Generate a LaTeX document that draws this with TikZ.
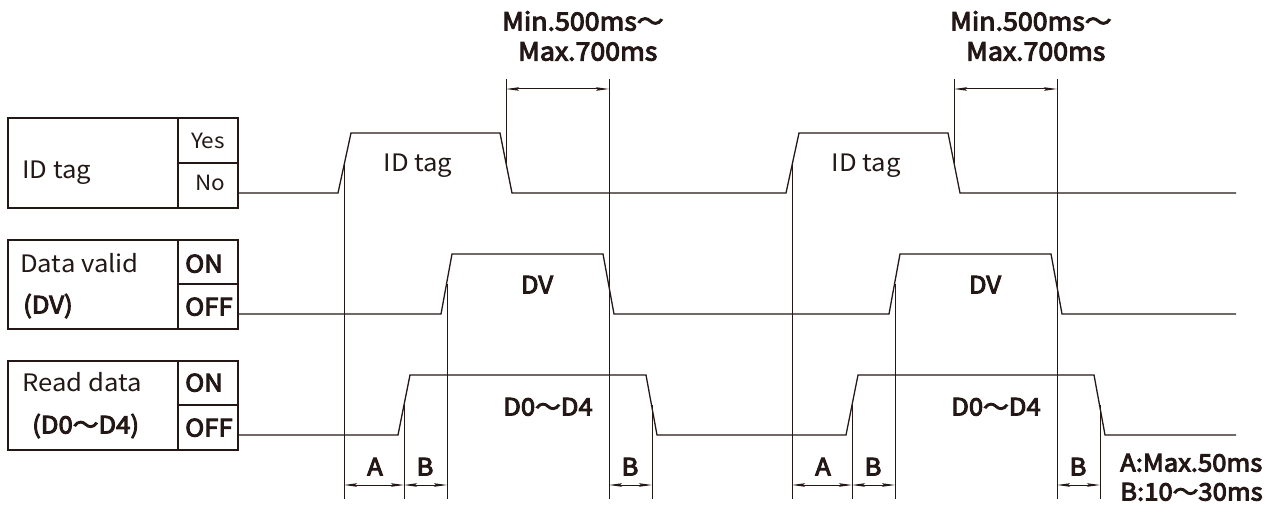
\documentclass[tikz,border=0pt]{standalone}
\usepackage{fontspec}
\setmainfont{Noto Sans CJK JP}
\newfontfamily\lightf{Noto Sans CJK JP}[FakeStretch=1.07]
\newfontfamily\medf{Noto Sans CJK JP}[FakeBold=4,FakeStretch=1.07]
\usetikzlibrary{arrows.meta}
\definecolor{ink}{HTML}{231815}
\tikzset{
  lt/.style={font=\lightf\fontsize{24}{24}\selectfont, text=ink, inner sep=0pt, text height=17pt, text depth=0pt},
  bd/.style={font=\medf\fontsize{24}{24}\selectfont, text=ink, inner sep=0pt, text height=17pt, text depth=0pt},
  sm/.style={font=\lightf\fontsize{21}{21}\selectfont, text=ink, inner sep=0pt, text height=15pt, text depth=0pt},
  wave/.style={line width=1.3pt, line join=miter},
  boxline/.style={line width=1.3pt},
  ext/.style={line width=1pt},
  dim/.style={line width=1pt, {Stealth[length=13pt,width=3.5pt,inset=2pt]}-{Stealth[length=13pt,width=3.5pt,inset=2pt]}}
}
\begin{document}
\begin{tikzpicture}[x=1pt,y=-1pt,color=ink]
\useasboundingbox (0,0) rectangle (1284,505);
% label boxes
\draw[boxline] (8,118) rectangle (238,208) (178,118) -- (178,208) (178,163) -- (238,163);
\draw[boxline] (8,240) rectangle (238,329) (178,240) -- (178,329) (178,284) -- (238,284);
\draw[boxline] (8,361) rectangle (238,450) (178,361) -- (178,450) (178,405) -- (238,405);
\node[lt,anchor=west] (lid) at (22,170) {ID tag};
\node[sm] (lyes) at (208,141) {Yes};
\node[sm] (lno) at (210,183) {No};
\node[lt,anchor=west] (ldv) at (20,264) {Data valid};
\node[bd,anchor=west] (ldv2) at (23,305) {(DV)};
\node[bd,anchor=west] (lon1) at (185,264) {ON};
\node[bd,anchor=west] (loff1) at (185,307) {OFF};
\node[lt,anchor=west] (lrd) at (22,383) {Read data};
\node[bd,anchor=west] (lrd2) at (32,425) {(D0～D4)};
\node[bd,anchor=west] (lon2) at (185,383) {ON};
\node[bd,anchor=west] (loff2) at (185,428) {OFF};
% waveforms
\draw[wave] (238,193) -- (338,193) -- (351,133) -- (500,133) -- (512,193) -- (786,193) -- (799,133) -- (948,133) -- (960,193) -- (1236,193);
\draw[wave] (238,314) -- (441,314) -- (452,254) -- (603,254) -- (614,314) -- (889,314) -- (900,254) -- (1051,254) -- (1062,314) -- (1236,314);
\draw[wave] (238,435) -- (398,435) -- (410,375) -- (646,375) -- (657,435) -- (846,435) -- (858,375) -- (1094,375) -- (1105,435) -- (1236,435);
% cycles
\foreach \o/\k in {0/1,448/2}{
  \node[lt] (wid\k) at (418+\o,163) {ID tag};
  \node[bd] (wdv\k) at (537+\o,285) {DV};
  \node[bd] (wdd\k) at (548+\o,407) {D0～D4};
  \node[bd,anchor=west,font=\medf\fontsize{25}{25}\selectfont] (min\k) at (502+\o,22) {Min.500ms～};
  \node[bd,anchor=west,font=\medf\fontsize{25}{25}\selectfont] (max\k) at (518+\o,52) {Max.700ms};
  % extension lines
  \coordinate (e1t\k) at (344+\o,163); \coordinate (e1b\k) at (344+\o,499);
  \coordinate (e2t\k) at (404+\o,405); \coordinate (e2b\k) at (404+\o,499);
  \coordinate (e3t\k) at (447+\o,284); \coordinate (e3b\k) at (447+\o,499);
  \coordinate (e4t\k) at (609+\o,79);  \coordinate (e4b\k) at (609+\o,499);
  \coordinate (e5t\k) at (652+\o,405); \coordinate (e5b\k) at (652+\o,499);
  \coordinate (e6t\k) at (506+\o,79);  \coordinate (e6b\k) at (506+\o,163);
  \draw[ext] (e1t\k) -- (e1b\k);
  \draw[ext] (e2t\k) -- (e2b\k);
  \draw[ext] (e3t\k) -- (e3b\k);
  \draw[ext] (e4t\k) -- (e4b\k);
  \draw[ext] (e5t\k) -- (e5b\k);
  \draw[ext] (e6t\k) -- (e6b\k);
  % dimension arrows
  \coordinate (pa\k) at (344+\o,485); \coordinate (pb\k) at (404+\o,485);
  \coordinate (pc\k) at (447+\o,485); \coordinate (pd\k) at (609+\o,485);
  \coordinate (pe\k) at (652+\o,485);
  \coordinate (ta\k) at (506+\o,89); \coordinate (tb\k) at (609+\o,89);
  \draw[dim] (pa\k) -- (pb\k);
  \draw[dim] (pb\k) -- (pc\k);
  \draw[dim] (pd\k) -- (pe\k);
  \draw[dim] (ta\k) -- (tb\k);
  \node[bd] (la\k) at (375+\o,467) {A};
  \node[bd] (lb\k) at (425+\o,467) {B};
  \node[bd] (lc\k) at (630+\o,467) {B};
}
\node[bd,anchor=west] (noteA) at (1120,463) {A:Max.50ms};
\node[bd,anchor=west] (noteB) at (1120,492) {B:10～30ms};
\end{tikzpicture}
\end{document}
